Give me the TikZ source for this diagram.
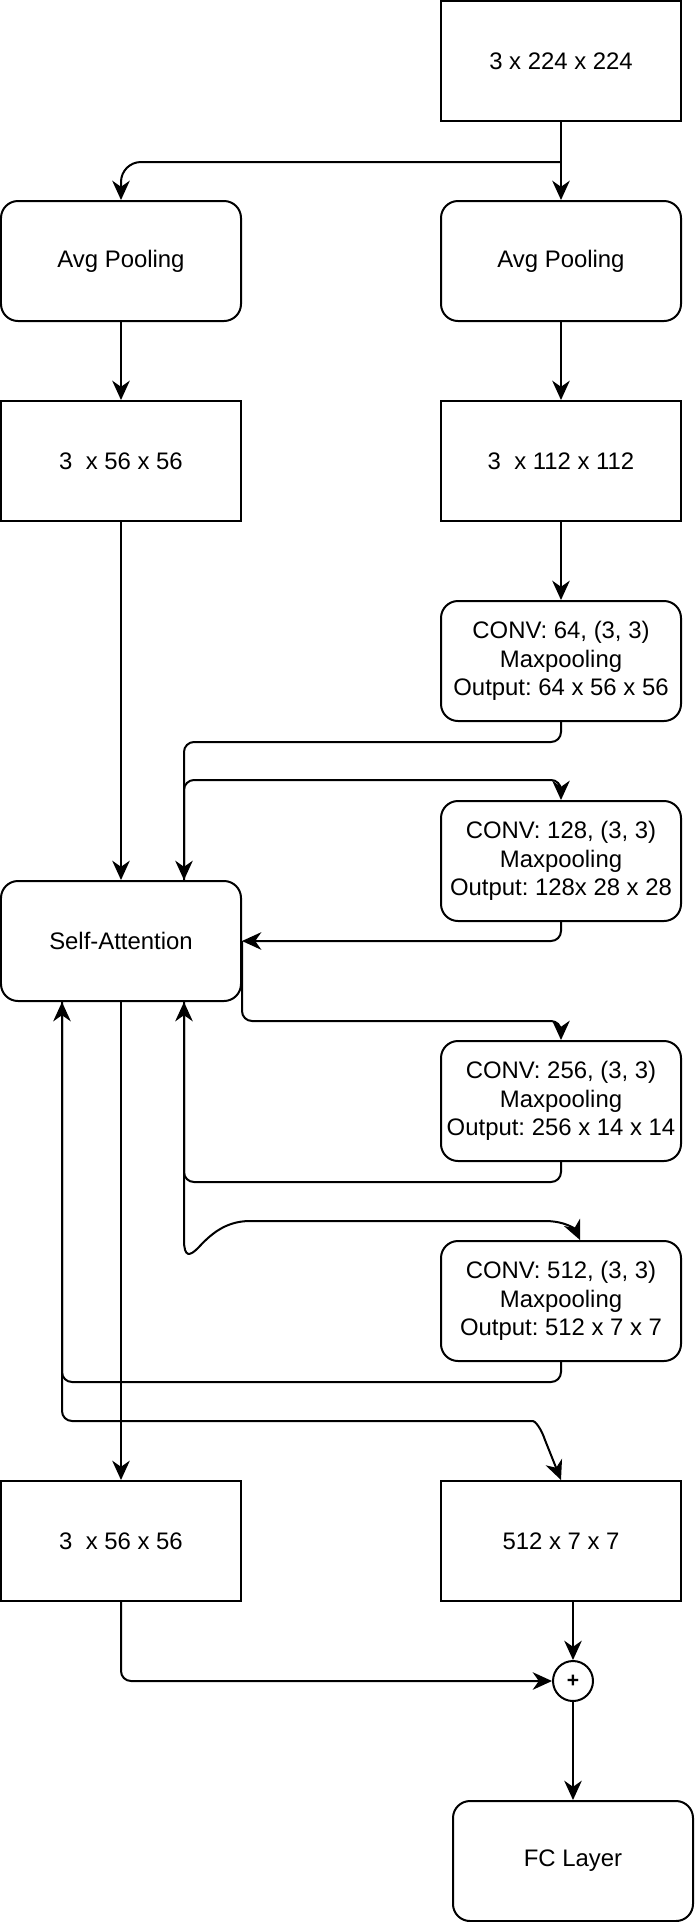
\documentclass[tikz,border=0pt]{standalone}
\usepackage{fontspec}
\setmainfont{Liberation Sans}
\usetikzlibrary{positioning,arrows.meta}
\frenchspacing

\begin{document}
\begin{tikzpicture}[
    every node/.style={font=\fontsize{13.6pt}{16.2pt}\selectfont},
    boxes/.style={rectangle,draw,line width=0.04cm,minimum width=4.8cm,minimum height=2.4cm,inner sep=0pt,align=center,on grid},
    rboxes/.style={boxes,rounded corners=0.34cm},
    sum/.style={circle,draw,line width=0.04cm,minimum size=0.8cm,inner sep=0pt,font=\bfseries\fontsize{12pt}{12pt}\selectfont,on grid},
    link/.style={-{Stealth[length=11pt,width=10pt,inset=3.5pt]},line width=0.04cm,rounded corners=0.2cm},
  ]
\useasboundingbox (0,0) rectangle (13.88,-38.44);

\node (input) [boxes] at (11.22,-1.22) {3 x 224 x 224};
\node (avg right) [rboxes,below=4 of input] {Avg Pooling};
\node (avg left) [rboxes,left=8.8 of avg right] {Avg Pooling};
\node (small) [boxes,below=4 of avg left] {3~ x 56 x 56};
\node (medium) [boxes,below=4 of avg right] {3~ x 112 x 112};

\node (conv64) [rboxes,below=4 of medium] {CONV: 64, (3, 3)\\ Maxpooling\\ Output: 64 x 56 x 56};
\node (conv128) [rboxes,below=4 of conv64] {CONV: 128, (3, 3)\\ Maxpooling\\ Output: 128x 28 x 28};
\node (attention) [rboxes,below=9.6 of small] {Self-Attention};
\node (conv256) [rboxes,below=4.8 of conv128] {CONV: 256, (3, 3)\\ Maxpooling\\ Output: 256 x 14 x 14};
\node (conv512) [rboxes,below=4 of conv256] {CONV: 512, (3, 3)\\ Maxpooling\\ Output: 512 x 7 x 7};

\node (small out) [boxes,below=12 of attention] {3~ x 56 x 56};
\node (deep out) [boxes,below=4.8 of conv512] {512 x 7 x 7};
\node (plus) [sum] at ([xshift=0.24cm,yshift=-2.8cm]deep out) {+};
\node (fc) [rboxes,below=3.6 of plus] {FC Layer};

\coordinate (split) at ([yshift=-0.8cm]input.south);
\coordinate (attention top in) at ([xshift=1.26cm]attention.north);
\coordinate (attention bottom in) at ([xshift=1.26cm]attention.south);
\coordinate (attention bottom out) at ([xshift=-1.18cm]attention.south);

\draw[link] (input) -- (avg right);
\draw[link,rounded corners=0.4cm] (split) -| (avg left.north);
\draw[link] (avg left) -- (small);
\draw[link] (avg right) -- (medium);
\draw[link] (medium) -- (conv64);
\draw[link] (small) -- (attention);

\draw[link] (conv64.south) -- ++(0,-0.4) -| (attention top in);
\draw[link] (attention top in) |- ([yshift=0.4cm]conv128.north) -- (conv128.north);
\draw[link] (conv128.south) |- (attention.east);
\draw[link] (attention.east) -- ++(0,-1.6) -| (conv256.north);
\draw[link] (conv256.south) -- ++(0,-0.4) -| (attention bottom in);
\draw[link,sharp corners] (attention bottom in) -- (3.68,-24.80) .. controls (3.68,-25.16) and (3.80,-25.12) .. (3.96,-24.96)
  .. controls (4.20,-24.70) and (4.50,-24.42) .. (5.00,-24.42)
  -- (10.9,-24.42) .. controls (11.3,-24.42) and (11.5,-24.58) .. ([xshift=0.38cm]conv512.north);
\draw[link] (conv512.south) -- ++(0,-0.4) -| (attention bottom out);
\draw[link] (attention bottom out) -- (1.24,-28.42) -- (10.46,-28.42) [sharp corners]
  .. controls (10.7,-28.42) and (10.82,-28.56) .. (10.9,-28.8) -- (deep out.north);

\draw[link] (attention) -- (small out);
\draw[link] (deep out.south -| plus.north) -- (plus.north);
\draw[link] (small out.south) |- (plus.west);
\draw[link] (plus) -- (fc);
\end{tikzpicture}
\end{document}
